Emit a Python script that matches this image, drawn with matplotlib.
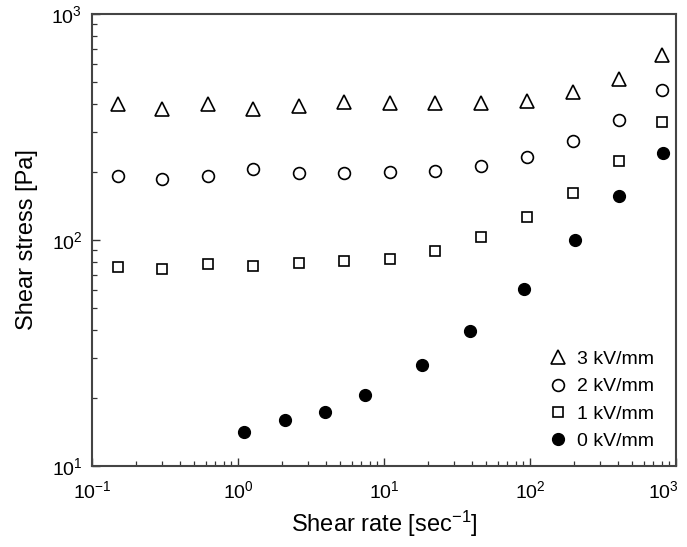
import matplotlib
matplotlib.use('Agg')
import matplotlib.pyplot as plt
import matplotlib.transforms as mtransforms

plt.rcParams['font.family'] = ['Liberation Sans', 'DejaVu Sans']
plt.rcParams['mathtext.fontset'] = 'custom'
plt.rcParams['mathtext.rm'] = 'Liberation Sans'
plt.rcParams['mathtext.it'] = 'Liberation Sans:italic'
plt.rcParams['mathtext.default'] = 'regular'

# shear rate [1/s] for the field-on series
rate = [0.15, 0.30, 0.62, 1.27, 2.6, 5.35, 11.0, 22.5, 46.5, 95, 197, 406, 800]
stress_3kv = [400, 380, 400, 378, 393, 407, 403, 403, 403, 414, 451, 517, 656]
stress_2kv = [192, 187, 191, 206, 197, 198, 199, 202, 213, 234, 275, 341, 462]
stress_1kv = [76.2, 74.1, 78.5, 76.7, 79.4, 80.7, 82.7, 89.1, 103, 126.5, 162, 224, 334]

# field-off series
rate_0kv = [1.10, 2.10, 3.94, 7.4, 18.2, 38.8, 90.6, 203, 407, 815]
stress_0kv = [14.1, 16.0, 17.4, 20.7, 28.1, 39.4, 60.4, 100, 157, 243]

fig = plt.figure(figsize=(6.87, 5.47), dpi=100)
ax = fig.add_axes([0.1339, 0.1481, 0.8501, 0.8263])

ax.plot(rate, stress_3kv, '^', ms=10, mfc='white', mec='black', mew=1.2, ls='none', label='3 kV/mm')
ax.plot(rate, stress_2kv, 'o', ms=8.5, mfc='white', mec='black', mew=1.2, ls='none', label='2 kV/mm')
ax.plot(rate, stress_1kv, 's', ms=7.5, mfc='white', mec='black', mew=1.2, ls='none', label='1 kV/mm')
ax.plot(rate_0kv, stress_0kv, 'o', ms=8.5, mfc='black', mec='black', ls='none', label='0 kV/mm')

ax.set_xscale('log')
ax.set_yscale('log')
ax.set_xlim(0.1, 1000)
ax.set_ylim(10, 1000)

for s in ax.spines.values():
    s.set_linewidth(1.5)
    s.set_color('#444444')

ax.tick_params(which='both', direction='in', top=False, right=False, color='#333333')
ax.tick_params(which='major', length=6, width=1.0, labelsize=14)
ax.tick_params(which='minor', length=3.5, width=0.9)
ax.tick_params(axis='x', which='major', pad=10)
ax.tick_params(axis='y', which='major', pad=7)

ax.set_xlabel('Shear rate [sec$^{-1}$]', fontsize=17, labelpad=5)
ax.set_ylabel('Shear stress [Pa]', fontsize=17, labelpad=10)

ax.legend(loc='lower right', bbox_to_anchor=(0.985, 0.005), frameon=False, fontsize=14,
          handlelength=0.8, handletextpad=0.55, labelspacing=0.5, borderaxespad=0.3)

# keep the last x tick label inside the canvas
fig.canvas.draw()
last = ax.get_xticklabels()[-1]
for lab in ax.get_xticklabels():
    if lab.get_position()[0] == 1000:
        lab.set_transform(lab.get_transform() +
                          mtransforms.ScaledTranslation(-9 / 72, 0, fig.dpi_scale_trans))

fig.savefig('out.png', dpi=100)
